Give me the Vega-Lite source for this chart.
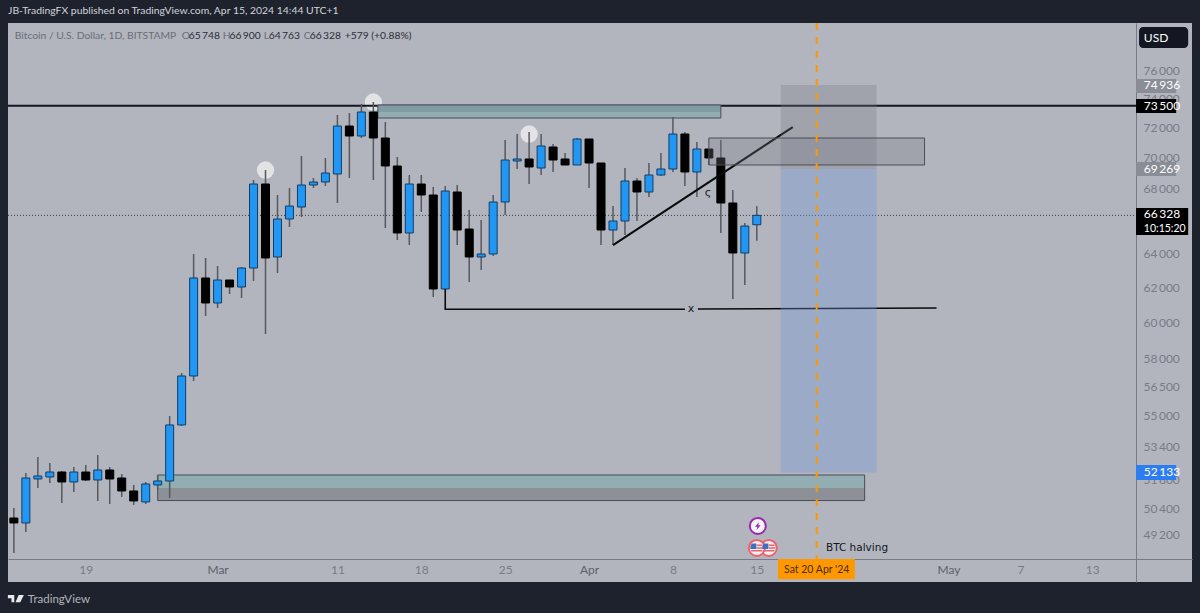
{
"$schema":"https://vega.github.io/schema/vega-lite/v6.json",
"width":1184,"height":559,
"autosize":{"type":"none"},
"padding":{"left":8,"top":23,"right":8,"bottom":31},
"background":"#1e222d",
"title":{"text":"JB-TradingFX published on TradingView.com, Apr 15, 2024 14:44 UTC+1","anchor":"start","frame":"group","offset":6,"font":"Lato","fontSize":10.4,"fontWeight":"normal","color":"#d1d4dc"},
"config":{"view":{"fill":"#b2b5be","stroke":null},"font":"Lato"},
"datasets":{
"candles":[
{"date":"2024-02-13","open":49957,"high":50428,"low":48347,"close":49724},
{"date":"2024-02-14","open":49724,"high":52108,"low":49307,"close":51864},
{"date":"2024-02-15","open":51816,"high":52894,"low":51383,"close":51962},
{"date":"2024-02-16","open":51913,"high":52598,"low":51623,"close":52156},
{"date":"2024-02-17","open":52156,"high":52205,"low":50666,"close":51671},
{"date":"2024-02-18","open":51671,"high":52401,"low":51190,"close":52156},
{"date":"2024-02-19","open":52156,"high":52500,"low":51719,"close":51767},
{"date":"2024-02-20","open":51767,"high":52994,"low":50760,"close":52254},
{"date":"2024-02-21","open":52254,"high":52401,"low":50618,"close":51816},
{"date":"2024-02-22","open":51864,"high":52059,"low":50950,"close":51237},
{"date":"2024-02-23","open":51237,"high":51526,"low":50570,"close":50760},
{"date":"2024-02-24","open":50712,"high":51671,"low":50618,"close":51575},
{"date":"2024-02-25","open":51526,"high":52010,"low":51285,"close":51719},
{"date":"2024-02-26","open":51719,"high":54966,"low":50903,"close":54505},
{"date":"2024-02-27","open":54505,"high":57224,"low":54454,"close":57064},
{"date":"2024-02-28","open":57064,"high":63971,"low":56797,"close":62550},
{"date":"2024-02-29","open":62550,"high":63732,"low":60362,"close":61102},
{"date":"2024-03-01","open":61102,"high":63256,"low":60816,"close":62432},
{"date":"2024-03-02","open":62432,"high":62432,"low":61618,"close":62024},
{"date":"2024-03-03","open":62024,"high":63196,"low":61389,"close":63137},
{"date":"2024-03-04","open":63137,"high":68561,"low":62374,"close":68305},
{"date":"2024-03-05","open":68305,"high":69206,"low":59354,"close":63732},
{"date":"2024-03-06","open":63792,"high":67605,"low":62843,"close":66102},
{"date":"2024-03-07","open":66102,"high":68050,"low":65609,"close":66911},
{"date":"2024-03-08","open":66848,"high":70121,"low":66225,"close":68241},
{"date":"2024-03-09","open":68241,"high":68690,"low":68050,"close":68433},
{"date":"2024-03-10","open":68433,"high":69990,"low":68178,"close":69012},
{"date":"2024-03-11","open":68948,"high":72866,"low":67100,"close":72118},
{"date":"2024-03-12","open":72118,"high":73002,"low":68690,"close":71446},
{"date":"2024-03-13","open":71446,"high":73620,"low":71312,"close":73070},
{"date":"2024-03-14","open":73070,"high":73757,"low":68561,"close":71312},
{"date":"2024-03-15","open":71312,"high":72388,"low":65548,"close":69467},
{"date":"2024-03-16","open":69467,"high":70055,"low":64815,"close":65242},
{"date":"2024-03-17","open":65242,"high":68883,"low":64513,"close":68305},
{"date":"2024-03-18","open":68305,"high":68883,"low":66538,"close":67605},
{"date":"2024-03-19","open":67605,"high":68114,"low":61446,"close":61908},
{"date":"2024-03-20","open":61908,"high":68178,"low":61850,"close":67859},
{"date":"2024-03-21","open":67796,"high":68241,"low":64513,"close":65425},
{"date":"2024-03-22","open":65486,"high":66662,"low":62316,"close":63792},
{"date":"2024-03-23","open":63792,"high":66040,"low":63019,"close":63971},
{"date":"2024-03-24","open":63971,"high":67605,"low":63851,"close":67163},
{"date":"2024-03-25","open":67163,"high":71178,"low":66351,"close":69858},
{"date":"2024-03-26","open":69793,"high":71580,"low":69271,"close":69924},
{"date":"2024-03-27","open":69924,"high":71714,"low":68305,"close":69402},
{"date":"2024-03-28","open":69336,"high":71580,"low":68883,"close":70781},
{"date":"2024-03-29","open":70715,"high":70913,"low":69077,"close":69858},
{"date":"2024-03-30","open":69924,"high":70318,"low":69532,"close":69532},
{"date":"2024-03-31","open":69532,"high":71312,"low":69532,"close":71245},
{"date":"2024-04-01","open":71245,"high":71245,"low":68050,"close":69662},
{"date":"2024-04-02","open":69662,"high":69662,"low":64513,"close":65425},
{"date":"2024-04-03","open":65425,"high":66911,"low":64513,"close":65978},
{"date":"2024-04-04","open":65978,"high":69336,"low":65120,"close":68497},
{"date":"2024-04-05","open":68497,"high":68690,"low":65978,"close":67796},
{"date":"2024-04-06","open":67796,"high":69662,"low":67478,"close":68883},
{"date":"2024-04-07","open":68883,"high":70318,"low":68819,"close":69271},
{"date":"2024-04-08","open":69271,"high":72730,"low":69077,"close":71580},
{"date":"2024-04-09","open":71580,"high":71714,"low":68178,"close":69077},
{"date":"2024-04-10","open":69077,"high":71046,"low":67478,"close":70581},
{"date":"2024-04-11","open":70581,"high":70581,"low":69532,"close":69990},
{"date":"2024-04-12","open":69990,"high":71178,"low":65242,"close":67100},
{"date":"2024-04-13","open":67100,"high":67922,"low":61331,"close":64031},
{"date":"2024-04-14","open":64031,"high":65855,"low":62141,"close":65670},
{"date":"2024-04-15","open":65748,"high":66900,"low":64763,"close":66328}
]},
"layer":[
{"data":{"values":[{"date":"2024-02-12T12:14:00Z","date2":"2024-05-16T15:36:00Z","price":66328}]},
"mark":{"type":"rule","color":"#3a3c44","strokeWidth":1,"strokeDash":[1,2]},
"encoding":{
"x":{"field":"date","type":"temporal",
 "scale":{"type":"utc","padding":0,"domain":[{"year":2024,"month":2,"date":12,"hours":12,"minutes":14,"utc":true},{"year":2024,"month":5,"date":21,"hours":7,"minutes":40,"utc":true}]},
 "axis":{"orient":"bottom","offset":-23,"title":null,"grid":false,"ticks":false,"domainColor":"#787b86","domainWidth":1,"labelFont":"Lato","labelFontSize":12,"labelColor":{"condition":{"test":"utcdate(datum.value)==1","value":"#5d606b"},"value":"#787b86"},"labelPadding":5,"labelOverlap":false,"labelFlush":false,
 "values":[{"year":2024,"month":2,"date":19,"utc":true},{"year":2024,"month":3,"date":1,"utc":true},{"year":2024,"month":3,"date":11,"utc":true},{"year":2024,"month":3,"date":18,"utc":true},{"year":2024,"month":3,"date":25,"utc":true},{"year":2024,"month":4,"date":1,"utc":true},{"year":2024,"month":4,"date":8,"utc":true},{"year":2024,"month":4,"date":15,"utc":true},{"year":2024,"month":5,"date":1,"utc":true},{"year":2024,"month":5,"date":7,"utc":true},{"year":2024,"month":5,"date":13,"utc":true}],
 "labelExpr":"utcdate(datum.value)==1 ? utcFormat(datum.value,'%b') : utcFormat(datum.value,'%-d')"}},
"x2":{"field":"date2"},
"y":{"field":"price","type":"quantitative",
 "scale":{"type":"log","domain":[47050,79423],"nice":false,"zero":false},
 "axis":{"orient":"right","offset":-56,"title":null,"grid":false,"ticks":false,"domainColor":"#787b86","domainWidth":1,"labelFont":"Lato","labelFontSize":12,"labelColor":"#787b86","labelPadding":7,"labelOverlap":false,"labelFlush":false,
 "values":[76000,74000,72000,70000,68000,66000,64000,62000,60000,58000,56500,55000,53400,51800,50400,49200],
 "labelExpr":"replace(format(datum.value,','),',','\u2009')"}}
}},
{"data":{"values":[{"date":"2024-03-05","price":69206},{"date":"2024-03-14","price":73757},{"date":"2024-03-27","price":71580}]},
"mark":{"type":"point","filled":true,"color":"#e8e8ea","opacity":0.9,"size":300},
"encoding":{"x":{"field":"date","type":"temporal"},"y":{"field":"price","type":"quantitative"}}},
{"data":{"values":[{"date":"2024-02-12T12:14:00Z","date2":"2024-05-16T15:36:00Z","price":73500}]},
"mark":{"type":"rule","color":"#131722","strokeWidth":2},
"encoding":{"x":{"field":"date","type":"temporal"},"x2":{"field":"date2"},"y":{"field":"price","type":"quantitative"}}},
{"data":{"values":[{"date":"2024-02-25","date2":"2024-04-24","price":52010,"price2":51383}]},
"mark":{"type":"rect","fill":"#92aeb2"},
"encoding":{"x":{"field":"date","type":"temporal"},"x2":{"field":"date2"},"y":{"field":"price","type":"quantitative"},"y2":{"field":"price2"}}},
{"data":{"values":[{"date":"2024-02-25","date2":"2024-04-24","price":51383,"price2":50780}]},
"mark":{"type":"rect","fill":"#8d9097"},
"encoding":{"x":{"field":"date","type":"temporal"},"x2":{"field":"date2"},"y":{"field":"price","type":"quantitative"},"y2":{"field":"price2"}}},
{"data":{"values":[{"date":"2024-02-25","date2":"2024-04-24","price":52010,"price2":50780}]},
"mark":{"type":"rect","fill":null,"stroke":"#4a4c55","strokeWidth":1},
"encoding":{"x":{"field":"date","type":"temporal"},"x2":{"field":"date2"},"y":{"field":"price","type":"quantitative"},"y2":{"field":"price2"}}},
{"data":{"values":[{"date":"2024-03-14T09:00:00Z","date2":"2024-04-12","price":73070,"price2":72660}]},
"mark":{"type":"rect","fill":"#92aeb2"},
"encoding":{"x":{"field":"date","type":"temporal"},"x2":{"field":"date2"},"y":{"field":"price","type":"quantitative"},"y2":{"field":"price2"}}},
{"data":{"values":[{"date":"2024-03-14T09:00:00Z","date2":"2024-04-12","price":73551,"price2":73070}]},
"mark":{"type":"rect","fill":"#7f9ca2"},
"encoding":{"x":{"field":"date","type":"temporal"},"x2":{"field":"date2"},"y":{"field":"price","type":"quantitative"},"y2":{"field":"price2"}}},
{"data":{"values":[{"date":"2024-03-14T09:00:00Z","date2":"2024-04-12","price":73551,"price2":72660}]},
"mark":{"type":"rect","fill":null,"stroke":"#4a4c55","strokeWidth":1},
"encoding":{"x":{"field":"date","type":"temporal"},"x2":{"field":"date2"},"y":{"field":"price","type":"quantitative"},"y2":{"field":"price2"}}},
{"data":{"name":"candles"},
"mark":{"type":"rule","color":"#55585f","strokeWidth":1.5},
"encoding":{"x":{"field":"date","type":"temporal"},"y":{"field":"low","type":"quantitative"},"y2":{"field":"high"}}},
{"data":{"name":"candles"},
"mark":{"type":"bar","size":8,"strokeWidth":1,"orient":"vertical"},
"encoding":{"x":{"field":"date","type":"temporal"},"y":{"field":"open","type":"quantitative"},"y2":{"field":"close"},
 "fill":{"condition":{"test":"datum.close>=datum.open","value":"#2196f3"},"value":"#000000"},
 "stroke":{"condition":{"test":"datum.close>=datum.open","value":"#0f3f6b"},"value":"#000000"}}},
{"data":{"values":[{"date":"2024-04-03","price":64500},{"date":"2024-04-18","price":72046}]},
"mark":{"type":"line","color":"#0a0a0a","strokeWidth":2},
"encoding":{"x":{"field":"date","type":"temporal"},"y":{"field":"price","type":"quantitative"}}},
{"data":{"values":[{"seg":"a","step":1,"date":"2024-03-20","price":61908},{"seg":"a","step":2,"date":"2024-03-20","price":60741},{"seg":"a","step":3,"date":"2024-04-09","price":60741},{"seg":"b","step":1,"date":"2024-04-10T02:00:00Z","price":60761},{"seg":"b","step":2,"date":"2024-04-30","price":60817}]},
"mark":{"type":"line","color":"#0a0a0a","strokeWidth":1.6},
"encoding":{"x":{"field":"date","type":"temporal"},"y":{"field":"price","type":"quantitative"},"detail":{"field":"seg"},"order":{"field":"step"}}},
{"data":{"values":[{"date":"2024-04-17","date2":"2024-04-25","price":74936,"price2":69269}]},
"mark":{"type":"rect","fill":"#787b86","opacity":0.3},
"encoding":{"x":{"field":"date","type":"temporal"},"x2":{"field":"date2"},"y":{"field":"price","type":"quantitative"},"y2":{"field":"price2"}}},
{"data":{"values":[{"date":"2024-04-17","date2":"2024-04-25","price":69269,"price2":52133}]},
"mark":{"type":"rect","fill":"#6f95d8","opacity":0.35},
"encoding":{"x":{"field":"date","type":"temporal"},"x2":{"field":"date2"},"y":{"field":"price","type":"quantitative"},"y2":{"field":"price2"}}},
{"data":{"values":[{"date":"2024-04-11","date2":"2024-04-29","price":71312,"price2":69532}]},
"mark":{"type":"rect","fill":"#787b86","fillOpacity":0.3,"stroke":"#4a4c55","strokeWidth":1},
"encoding":{"x":{"field":"date","type":"temporal"},"x2":{"field":"date2"},"y":{"field":"price","type":"quantitative"},"y2":{"field":"price2"}}},
{"data":{"values":[{"date":"2024-04-20","price":79423,"price2":48075}]},
"mark":{"type":"rule","color":"#ff9800","strokeWidth":2,"strokeDash":[7,7]},
"encoding":{"x":{"field":"date","type":"temporal"},"y":{"field":"price","type":"quantitative"},"y2":{"field":"price2"}}},
{"data":{"values":[{"date":"2024-04-09T12:00:00Z","price":60741,"label":"x"},{"date":"2024-04-10T22:00:00Z","price":67732,"label":"ς"}]},
"mark":{"type":"text","font":"DejaVu Sans","fontSize":11,"color":"#131722","align":"center","baseline":"middle"},
"encoding":{"x":{"field":"date","type":"temporal"},"y":{"field":"price","type":"quantitative"},"text":{"field":"label"}}},
{"data":{"values":[{"date":"2024-04-20T18:30:00Z","price":48550,"label":"BTC halving"}]},
"mark":{"type":"text","font":"DejaVu Sans","fontSize":10.5,"color":"#131722","align":"left","baseline":"middle"},
"encoding":{"x":{"field":"date","type":"temporal"},"y":{"field":"price","type":"quantitative"},"text":{"field":"label"}}},
{"data":{"values":[{"date":"2024-04-16","price":48573},{"date":"2024-04-15","price":48573}]},
"mark":{"type":"point","filled":true,"fill":"#eef0f4","stroke":"#f2606a","strokeWidth":2,"opacity":1,"size":256},
"encoding":{"x":{"field":"date","type":"temporal"},"y":{"field":"price","type":"quantitative"},"order":{"field":"date","sort":"descending"}}},
{"data":{"values":[{"date":"2024-04-15","price":48573},{"date":"2024-04-16","price":48573}]},
"mark":{"type":"point","filled":true,"color":"#e8636c","opacity":1,"size":256,"shape":"M0 -.45H.7V-.25H0ZM0 -.1H.8V.1H0ZM-.7 .25H.7V.45H-.7Z"},
"encoding":{"x":{"field":"date","type":"temporal"},"y":{"field":"price","type":"quantitative"}}},
{"data":{"values":[{"date":"2024-04-15","price":48573},{"date":"2024-04-16","price":48573}]},
"mark":{"type":"point","filled":true,"color":"#3f6fc4","opacity":1,"size":256,"shape":"M-.65 -.55H-.05V.12H-.8V-.2Z"},
"encoding":{"x":{"field":"date","type":"temporal"},"y":{"field":"price","type":"quantitative"}}},
{"data":{"values":[{"date":"2024-04-15T02:00:00Z","price":49585}]},
"mark":{"type":"point","filled":true,"fill":"#f4f4f6","stroke":"#9c27b0","strokeWidth":2,"opacity":1,"size":256},
"encoding":{"x":{"field":"date","type":"temporal"},"y":{"field":"price","type":"quantitative"}}},
{"data":{"values":[{"date":"2024-04-15T02:00:00Z","price":49585}]},
"mark":{"type":"point","filled":true,"color":"#9c27b0","opacity":1,"size":256,"shape":"M.15 -.5L-.35 .1H-.05L-.15 .5L.35 -.1H.05Z"},
"encoding":{"x":{"field":"date","type":"temporal"},"y":{"field":"price","type":"quantitative"}}},
{"data":{"values":[{"date":"2024-05-16T15:36:00Z","date2":"2024-05-20","price":75362,"price2":74382},{"date":"2024-05-16T15:36:00Z","date2":"2024-05-20","price":69727,"price2":68819}]},
"mark":{"type":"rect","fill":"#8a8d96"},
"encoding":{"x":{"field":"date","type":"temporal"},"x2":{"field":"date2"},"y":{"field":"price","type":"quantitative"},"y2":{"field":"price2"}}},
{"data":{"values":[{"date":"2024-05-16T15:36:00Z","date2":"2024-05-20","price":73964,"price2":73002},{"date":"2024-05-16T15:36:00Z","date2":"2024-05-21","price":66787,"price2":65120}]},
"mark":{"type":"rect","fill":"#000000"},
"encoding":{"x":{"field":"date","type":"temporal"},"x2":{"field":"date2"},"y":{"field":"price","type":"quantitative"},"y2":{"field":"price2"}}},
{"data":{"values":[{"date":"2024-05-16T15:36:00Z","date2":"2024-05-20","price":52499,"price2":51767}]},
"mark":{"type":"rect","fill":"#2e7df0"},
"encoding":{"x":{"field":"date","type":"temporal"},"x2":{"field":"date2"},"y":{"field":"price","type":"quantitative"},"y2":{"field":"price2"}}},
{"data":{"values":[{"date":"2024-05-16T21:36:00Z","date2":"2024-05-21","price":79125,"price2":77583}]},
"mark":{"type":"rect","fill":"#131722","cornerRadius":4},
"encoding":{"x":{"field":"date","type":"temporal"},"x2":{"field":"date2"},"y":{"field":"price","type":"quantitative"},"y2":{"field":"price2"}}},
{"data":{"values":[{"date":"2024-05-17T07:12:00Z","price":74936,"label":"74\u2009936"},{"date":"2024-05-17T07:12:00Z","price":73500,"label":"73\u2009500"},{"date":"2024-05-17T07:12:00Z","price":69269,"label":"69\u2009269"},{"date":"2024-05-17T07:12:00Z","price":66400,"label":"66\u2009328"},{"date":"2024-05-17T07:12:00Z","price":52133,"label":"52\u2009133"},{"date":"2024-05-17T07:12:00Z","price":78340,"label":"USD"}]},
"mark":{"type":"text","font":"Lato","fontSize":12,"color":"#ffffff","align":"left","baseline":"middle"},
"encoding":{"x":{"field":"date","type":"temporal"},"y":{"field":"price","type":"quantitative"},"text":{"field":"label"}}},
{"data":{"values":[{"date":"2024-05-17T07:12:00Z","price":65510,"label":"10:15:20"}]},
"mark":{"type":"text","font":"Lato","fontSize":10.5,"color":"#ffffff","align":"left","baseline":"middle"},
"encoding":{"x":{"field":"date","type":"temporal"},"y":{"field":"price","type":"quantitative"},"text":{"field":"label"}}},
{"data":{"values":[{"date":"2024-04-16T18:15:00Z","date2":"2024-04-23T04:30:00Z","price":48075,"price2":47167}]},
"mark":{"type":"rect","fill":"#ff9800"},
"encoding":{"x":{"field":"date","type":"temporal"},"x2":{"field":"date2"},"y":{"field":"price","type":"quantitative"},"y2":{"field":"price2"}}},
{"data":{"values":[{"date":"2024-04-20","price":47603,"label":"Sat 20 Apr '24"}]},
"mark":{"type":"text","font":"Lato","fontSize":10.5,"color":"#4a2c00","align":"center","baseline":"middle"},
"encoding":{"x":{"field":"date","type":"temporal"},"y":{"field":"price","type":"quantitative"},"text":{"field":"label"}}},
{"data":{"values":[{"date":"2024-02-13T01:40:00Z","price":78480,"label":"Bitcoin / U.S. Dollar, 1D, BITSTAMP"},{"date":"2024-02-27","price":78480,"label":"O"},{"date":"2024-03-01T10:30:00Z","price":78480,"label":"H"},{"date":"2024-03-04T20:40:00Z","price":78480,"label":"L"},{"date":"2024-03-08T04:48:00Z","price":78480,"label":"C"}]},
"mark":{"type":"text","font":"Lato","fontSize":10.3,"color":"#6a6d78","align":"left","baseline":"middle"},
"encoding":{"x":{"field":"date","type":"temporal"},"y":{"field":"price","type":"quantitative"},"text":{"field":"label"}}},
{"data":{"values":[{"date":"2024-02-27T14:24:00Z","price":78480,"label":"65\u2009748"},{"date":"2024-03-02","price":78480,"label":"66\u2009900"},{"date":"2024-03-05T06:40:00Z","price":78480,"label":"64\u2009763"},{"date":"2024-03-08T16:48:00Z","price":78480,"label":"66\u2009328"},{"date":"2024-03-11T14:53:00Z","price":78480,"label":"+579 (+0.88%)"}]},
"mark":{"type":"text","font":"Lato","fontSize":10.3,"color":"#2a2e39","align":"left","baseline":"middle"},
"encoding":{"x":{"field":"date","type":"temporal"},"y":{"field":"price","type":"quantitative"},"text":{"field":"label"}}},
{"data":{"values":[{"date":"2024-02-13T04:00:00Z","price":46326}]},
"mark":{"type":"point","filled":true,"color":"#e8e9ed","opacity":1,"size":256,"shape":"M-1 -.45H-.2V.45H-.55V-.05H-1ZM.35 -.45H1L.55 .45H-.05Z"},
"encoding":{"x":{"field":"date","type":"temporal"},"y":{"field":"price","type":"quantitative"}}},
{"data":{"values":[{"date":"2024-02-14T04:00:00Z","price":46283,"label":"TradingView"}]},
"mark":{"type":"text","font":"Lato","fontSize":11.5,"color":"#b2b5be","align":"left","baseline":"middle"},
"encoding":{"x":{"field":"date","type":"temporal"},"y":{"field":"price","type":"quantitative"},"text":{"field":"label"}}}
]
}
